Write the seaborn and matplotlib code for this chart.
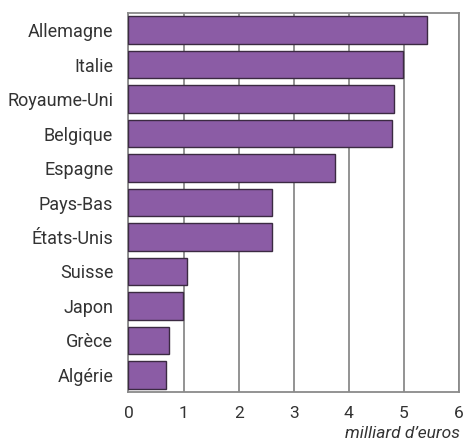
import pandas as pd
import seaborn as sns
import matplotlib
matplotlib.use('Agg')
import matplotlib.pyplot as plt

pays = ['Allemagne', 'Italie', 'Royaume-Uni', 'Belgique', 'Espagne', 'Pays-Bas',
        'États-Unis', 'Suisse', 'Japon', 'Grèce', 'Algérie']
montants = [5.42, 4.99, 4.82, 4.79, 3.74, 2.60, 2.60, 1.07, 0.99, 0.74, 0.69]

df = pd.DataFrame({'pays': pays, 'montant': montants})

sns.set_style('white')
plt.rcParams['font.family'] = ['Roboto', 'DejaVu Sans']

fig = plt.figure(figsize=(4.65, 4.41), dpi=100)
ax = fig.add_axes([0.2763, 0.1111, 0.7108, 0.8594])

sns.barplot(data=df, x='montant', y='pays', color='#8b5ca5', saturation=1,
            width=0.8, edgecolor='#3b2a42', linewidth=1, ax=ax, zorder=3)

ax.set_xlim(0, 6)
ax.set_ylim(10.5, -0.5)
ax.set_xticks(range(0, 7))
ax.grid(axis='x', color='#8a8a8a', linewidth=1.3, zorder=0)
ax.set_axisbelow(True)
for s in ax.spines.values():
    s.set_color('#8a8a8a')
    s.set_linewidth(1.3)

ax.tick_params(axis='both', length=0, colors='#333333')
ax.tick_params(axis='y', labelsize=13, pad=11)
ax.tick_params(axis='x', labelsize=12.5, pad=10)
ax.set_xlabel('')
ax.set_ylabel('')
fig.text(0.989, 1 - 438 / 441, 'milliard d\u2019euros', ha='right', va='baseline',
         fontsize=12.5, style='italic', color='#333333')

fig.savefig('out.png', dpi=100)
